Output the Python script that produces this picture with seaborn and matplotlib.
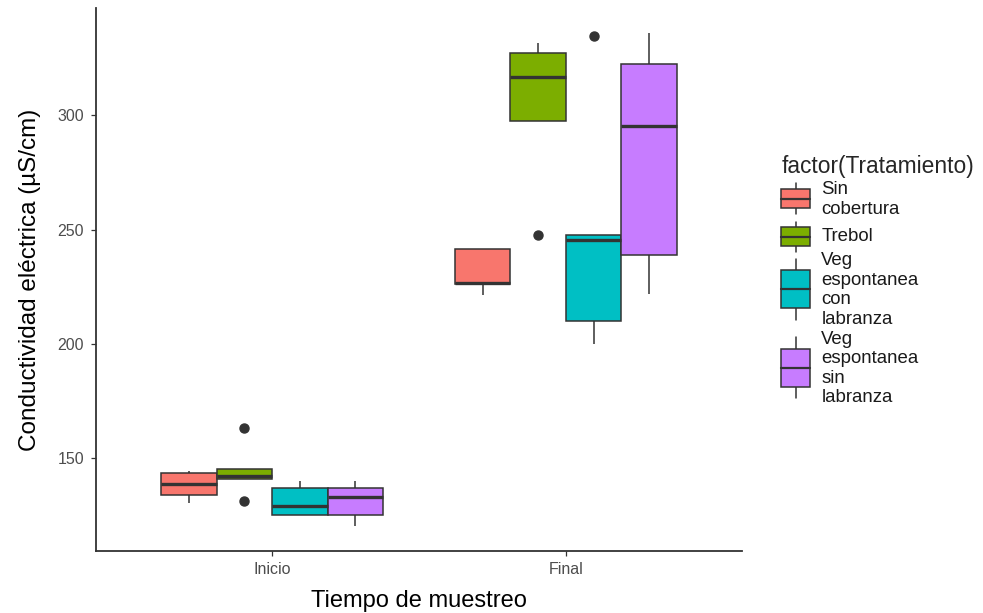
import numpy as np
import pandas as pd
import seaborn as sns
import matplotlib
matplotlib.use("Agg")
import matplotlib.pyplot as plt
from matplotlib.legend_handler import HandlerBase
from matplotlib.patches import Rectangle
from matplotlib.lines import Line2D

# ---------------- data ----------------
tiempos = ["Inicio", "Final"]
tratamientos = ["Sin cobertura", "Trebol",
                "Veg espontanea con labranza", "Veg espontanea sin labranza"]
etiquetas_leyenda = ["Sin\ncobertura", "Trebol",
                     "Veg\nespontanea\ncon\nlabranza",
                     "Veg\nespontanea\nsin\nlabranza"]
colores = ["#F8766D", "#7CAE00", "#00BFC4", "#C77CFF"]

inicio_sin_cobertura = [130.7, 134.2, 138.6, 143.4, 144.7]
inicio_trebol = [131.3, 141.1, 141.1, 142.2, 145.5, 145.5, 163.1]
inicio_veg_con_labranza = [125.3, 125.3, 129.4, 137.1, 140.3]
inicio_veg_sin_labranza = [120.3, 125.3, 133.2, 137.1, 140.3]

final_sin_cobertura = [221.3, 226.1, 226.8, 241.8, 241.8]
final_trebol = [247.9, 297.5, 297.5, 316.8, 327.4, 327.4, 331.5]
final_veg_con_labranza = [200.0, 209.9, 209.9, 245.4, 247.5, 247.5, 334.7]
final_veg_sin_labranza = [222.1, 238.9, 295.6, 322.6, 336.2]

y_ticks = [150, 200, 250, 300]

series = {
    ("Inicio", "Sin cobertura"): inicio_sin_cobertura,
    ("Inicio", "Trebol"): inicio_trebol,
    ("Inicio", "Veg espontanea con labranza"): inicio_veg_con_labranza,
    ("Inicio", "Veg espontanea sin labranza"): inicio_veg_sin_labranza,
    ("Final", "Sin cobertura"): final_sin_cobertura,
    ("Final", "Trebol"): final_trebol,
    ("Final", "Veg espontanea con labranza"): final_veg_con_labranza,
    ("Final", "Veg espontanea sin labranza"): final_veg_sin_labranza,
}
rows = []
for (t, tr), vals in series.items():
    for v in vals:
        rows.append({"Tiempo": t, "Tratamiento": tr, "CE": v})
df = pd.DataFrame(rows)

# ---------------- style ----------------
sns.set_theme(style="white")
plt.rcParams["font.family"] = ["Liberation Sans", "DejaVu Sans"]

fig = plt.figure(figsize=(9.83, 6.13), dpi=100)
ax = fig.add_axes([96 / 983, 1 - 551 / 613, (742 - 96) / 983, (551 - 8) / 613])

edge = "#333333"
sns.boxplot(data=df, x="Tiempo", y="CE", hue="Tratamiento",
            order=tiempos, hue_order=tratamientos, palette=colores,
            saturation=1, width=0.755, gap=0, linecolor=edge, linewidth=1.1,
            fliersize=6.5, showcaps=False, legend=False,
            flierprops=dict(marker="o", markerfacecolor=edge,
                            markeredgecolor=edge),
            medianprops=dict(linewidth=2.4, color=edge),
            ax=ax)

ax.set_xlim(-0.6, 1.6)
ax.set_ylim(109.5, 347)
ax.set_yticks(y_ticks)
ax.set_yticklabels([str(v) for v in y_ticks])

for s in ["top", "right"]:
    ax.spines[s].set_visible(False)
for s in ["left", "bottom"]:
    ax.spines[s].set_color(edge)
    ax.spines[s].set_linewidth(1.3)

ax.tick_params(axis="both", which="major", length=3.5, width=0.9,
               color=edge, labelcolor="#4D4D4D", labelsize=11.5,
               left=True, bottom=True)
ax.tick_params(axis="y", pad=5)
ax.tick_params(axis="x", pad=4.5)
ax.set_xlabel("Tiempo de muestreo", fontsize=17, color="black", labelpad=9)
ax.set_ylabel("Conductividad eléctrica (µS/cm)", fontsize=17.5,
              color="black", labelpad=12)
ax.grid(False)


# ---------------- legend ----------------
class BoxKey:
    def __init__(self, color, nlines):
        self.color = color
        self.nlines = nlines


class BoxHandler(HandlerBase):
    def create_artists(self, legend, orig, xdescent, ydescent, width, height,
                       fontsize, trans):
        n = orig.nlines
        K = max(27.0, 13.7 * n)  # key height in points
        cy = fontsize * (0.22 if n == 1 else 0.39)
        x0 = -xdescent
        w = width
        box = Rectangle((x0, cy - 0.25 * K), w, 0.5 * K,
                        facecolor=orig.color, edgecolor=edge, linewidth=1.1,
                        transform=trans)
        med = Line2D([x0, x0 + w], [cy, cy], color=edge, linewidth=1.6,
                     transform=trans)
        wt = Line2D([x0 + w / 2] * 2, [cy + 0.25 * K, cy + 0.4 * K],
                    color=edge, linewidth=1.1, transform=trans)
        wb = Line2D([x0 + w / 2] * 2, [cy - 0.25 * K, cy - 0.4 * K],
                    color=edge, linewidth=1.1, transform=trans)
        return [wt, wb, box, med]


handles = [BoxKey(c, lab.count("\n") + 1)
           for c, lab in zip(colores, etiquetas_leyenda)]
leg = ax.legend(handles=handles, labels=etiquetas_leyenda,
                handler_map={BoxKey: BoxHandler()},
                title="factor(Tratamiento)", title_fontsize=16.4,
                fontsize=13.4, frameon=False, loc="upper left",
                bbox_to_anchor=(772 / 983, 1 - 146 / 613),
                bbox_transform=fig.transFigure, borderpad=0,
                handlelength=1.55, handleheight=2.0, handletextpad=0.6,
                labelspacing=0.15, alignment="left")
for t in leg.get_texts():
    t.set_color("#1a1a1a")

fig.savefig("out.png", dpi=100)
